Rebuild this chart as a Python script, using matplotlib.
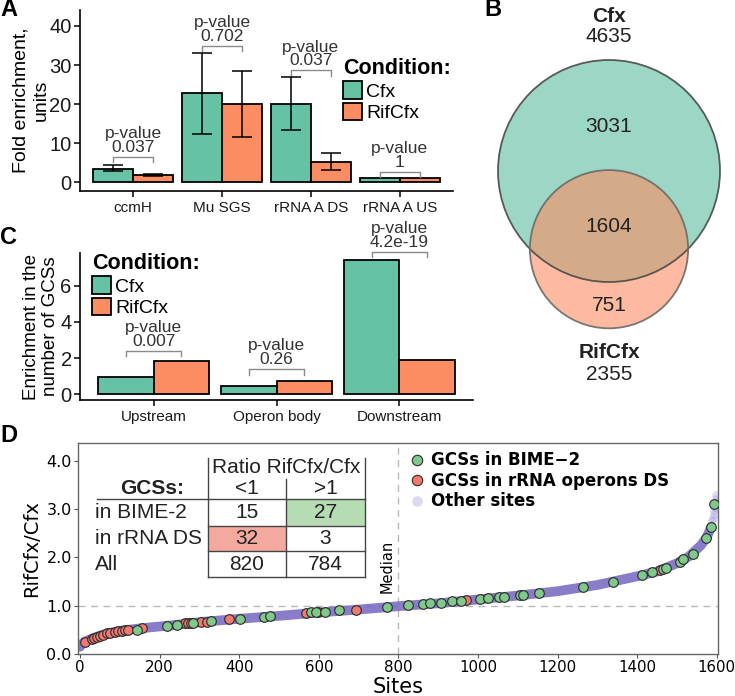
import numpy as np
import matplotlib
matplotlib.use('Agg')
import matplotlib.pyplot as plt
import matplotlib.transforms as mtransforms
from matplotlib.patches import Patch, Circle, Rectangle
from matplotlib.lines import Line2D

W, H = 735, 696
plt.rcParams['font.family'] = ['Liberation Sans', 'DejaVu Sans']

green = '#66c2a5'
orange = '#fc8d62'

# ---- panel A: fold enrichment at selected sites
a_sites = ['ccmH', 'Mu SGS', 'rRNA A DS', 'rRNA A US']
a_cfx = [3.45, 22.8, 20.0, 0.95]
a_cfx_lo = [2.75, 12.4, 13.3, 0.95]
a_cfx_hi = [4.3, 33.1, 26.8, 0.95]
a_rif = [1.85, 20.0, 5.25, 0.95]
a_rif_lo = [1.6, 11.5, 3.0, 0.95]
a_rif_hi = [2.05, 28.5, 7.5, 0.95]
a_pvals = ['0.037', '0.702', '0.037', '1']
a_bracket_y = [6.4, 34.8, 28.6, 2.6]

# ---- panel B: venn counts
venn_cfx_total = 4635
venn_rif_total = 2355
venn_cfx_only = 3031
venn_both = 1604
venn_rif_only = 751

# ---- panel C: enrichment by operon region
c_regions = ['Upstream', 'Operon body', 'Downstream']
c_cfx = [0.96, 0.46, 7.44]
c_rif = [1.85, 0.74, 1.89]
c_pvals = ['0.007', '0.26', '4.2e-19']
c_bracket_y = [2.4, 1.37, 7.9]

# ---- panel D: sorted RifCfx/Cfx ratio
other_x = [0, 10, 30, 50, 70, 100, 150, 200, 250, 300, 400, 500, 600, 700, 800,
           900, 1000, 1100, 1200, 1300, 1400, 1450, 1500, 1530, 1560, 1575, 1585]
other_y = [0.15, 0.25, 0.32, 0.38, 0.43, 0.48, 0.53, 0.57, 0.61, 0.66, 0.73, 0.79,
           0.86, 0.92, 0.99, 1.05, 1.13, 1.21, 1.30, 1.43, 1.61, 1.71, 1.88, 2.02,
           2.25, 2.42, 2.62]
# sparse tail of the other sites (pale dots)
tail_x = [1586, 1588, 1590, 1592, 1594, 1596, 1597, 1598, 1599]
tail_y = [2.68, 2.75, 2.82, 2.9, 2.98, 3.05, 3.12, 3.2, 3.3]
bime_x = [144, 218, 243, 284, 330, 401, 462, 478, 581, 594, 616, 650, 772,
          824, 862, 880, 906, 935, 958, 1004, 1025, 1052, 1065, 1106, 1112, 1154,
          1263, 1338, 1411, 1437, 1464, 1472, 1507, 1516, 1539, 1574, 1585, 1594]
bime_y = [0.50, 0.58, 0.60, 0.65, 0.68, 0.73, 0.77, 0.79, 0.86, 0.86, 0.88, 0.91, 0.98,
          1.01, 1.03, 1.05, 1.06, 1.09, 1.10, 1.14, 1.15, 1.18, 1.19, 1.22, 1.22, 1.26,
          1.39, 1.50, 1.64, 1.69, 1.77, 1.79, 1.91, 1.96, 2.07, 2.41, 2.62, 3.10]
rrna_x = [12, 29, 35, 42, 50, 58, 67, 75, 88, 96, 105, 113, 121, 155, 263, 272,
          280, 305, 318, 375, 569, 597, 693, 969, 1457]
rrna_y = [0.25, 0.32, 0.33, 0.36, 0.38, 0.39, 0.43, 0.44, 0.46, 0.48, 0.48, 0.49, 0.50,
          0.53, 0.64, 0.64, 0.65, 0.67, 0.67, 0.72, 0.84, 0.86, 0.92, 1.12, 1.74]
median_site = 800

table_rows = ['in BIME-2', 'in rRNA DS', 'All']
table_lt1 = [15, 32, 820]
table_gt1 = [27, 3, 784]

fig = plt.figure(figsize=(W / 100, H / 100), dpi=100)
px = mtransforms.Affine2D().scale(1 / W, -1 / H).translate(0, 1) + fig.transFigure


def px_axes(l, t, r, b):
    return fig.add_axes([l / W, 1 - b / H, (r - l) / W, (b - t) / H])


def gg_style(ax):
    for s in ['top', 'right']:
        ax.spines[s].set_visible(False)
    for s in ['left', 'bottom']:
        ax.spines[s].set_linewidth(1.2)
    ax.tick_params(length=4, width=1.1, colors='black', labelcolor='#1a1a1a')


def dodge_bars(ax, cfx, rif):
    x = np.arange(1, len(cfx) + 1)
    w = 0.45
    ax.bar(x - w / 2, cfx, w, color=green, edgecolor='black', linewidth=1.3, zorder=2)
    ax.bar(x + w / 2, rif, w, color=orange, edgecolor='black', linewidth=1.3, zorder=2)
    return x, w


def pvalue_brackets(ax, x, w, ys, pvals, drop, fs):
    for xi, y, p in zip(x, ys, pvals):
        ax.plot([xi - w / 2, xi - w / 2, xi + w / 2, xi + w / 2],
                [y - drop, y, y, y - drop], color='#8a8a8a', lw=1, clip_on=False)
        ax.annotate('p-value\n' + p, xy=(xi, y), xytext=(0, 1.5), textcoords='offset points',
                    ha='center', va='bottom', fontsize=fs, color='#333333',
                    linespacing=0.9, annotation_clip=False)


def condition_legend(ax, anchor):
    handles = [Patch(facecolor=green, edgecolor='black', linewidth=1.3, label='Cfx'),
               Patch(facecolor=orange, edgecolor='black', linewidth=1.3, label='RifCfx')]
    ax.legend(handles=handles, title='Condition:', loc='upper left', bbox_to_anchor=anchor,
              frameon=False, fontsize=14, title_fontproperties={'weight': 'bold', 'size': 15.5},
              alignment='left', handlelength=1.0, handleheight=1.0, handletextpad=0.2,
              labelspacing=0.12, borderpad=0, borderaxespad=0)


# ---------------- A
ax_a = px_axes(80, 10, 453, 191)
x, w = dodge_bars(ax_a, a_cfx, a_rif)
for xs, v, lo, hi in [(x - w / 2, a_cfx, a_cfx_lo, a_cfx_hi), (x + w / 2, a_rif, a_rif_lo, a_rif_hi)]:
    v, lo, hi = np.array(v), np.array(lo), np.array(hi)
    m = hi > lo
    ax_a.errorbar(xs[m], v[m], yerr=[v[m] - lo[m], hi[m] - v[m]], fmt='none', ecolor='black',
                  elinewidth=1.1, capsize=7, capthick=1.1, zorder=3)
pvalue_brackets(ax_a, x, w, a_bracket_y, a_pvals, 1.3, 12.5)
ax_a.set_xlim(0.4, len(a_sites) + 0.6)
ax_a.set_ylim(-2.3, 44.1)
ax_a.set_yticks([0, 10, 20, 30, 40])
ax_a.set_xticks(x)
ax_a.set_xticklabels(a_sites, fontsize=11)
gg_style(ax_a)
ax_a.tick_params(axis='y', labelsize=14.5, pad=2)
ax_a.set_ylabel('Fold enrichment,\nunits', fontsize=14, linespacing=1.2, labelpad=0)
condition_legend(ax_a, (0.705, 0.735))

# ---------------- B
ax_b = px_axes(460, 0, 735, 420)
ax_b.set_xlim(460, 735)
ax_b.set_ylim(420, 0)
ax_b.axis('off')


def lens_area(r1, r2, d):
    if d >= r1 + r2:
        return 0.0
    if d <= abs(r1 - r2):
        return np.pi * min(r1, r2) ** 2
    a1 = r1 ** 2 * np.arccos((d ** 2 + r1 ** 2 - r2 ** 2) / (2 * d * r1))
    a2 = r2 ** 2 * np.arccos((d ** 2 + r2 ** 2 - r1 ** 2) / (2 * d * r2))
    a3 = 0.5 * np.sqrt((-d + r1 + r2) * (d + r1 - r2) * (d - r1 + r2) * (d + r1 + r2))
    return a1 + a2 - a3


r1 = 111.0
k = r1 / np.sqrt(venn_cfx_total)
r2 = k * np.sqrt(venn_rif_total)
target = np.pi * k ** 2 * venn_both
lo_d, hi_d = abs(r1 - r2), r1 + r2
for _ in range(60):
    mid = (lo_d + hi_d) / 2
    if lens_area(r1, r2, mid) > target:
        lo_d = mid
    else:
        hi_d = mid
d = (lo_d + hi_d) / 2
cx, cy1 = 609, 171
cy2 = cy1 + d
ax_b.add_patch(Circle((cx, cy1), r1, facecolor=green, alpha=0.65, edgecolor='none'))
ax_b.add_patch(Circle((cx, cy2), r2, facecolor=orange, alpha=0.6, edgecolor='none'))
ax_b.add_patch(Circle((cx, cy1), r1, fill=False, edgecolor='#4a4a4a', lw=1.3, alpha=0.9))
ax_b.add_patch(Circle((cx, cy2), r2, fill=False, edgecolor='#6a6a6a', lw=1.3, alpha=0.9))
vfs = 15
ax_b.text(cx, cy1 - r1 - 43, 'Cfx', ha='center', va='center', fontsize=vfs, fontweight='bold', color='#222222')
ax_b.text(cx, cy1 - r1 - 23, str(venn_cfx_total), ha='center', va='center', fontsize=vfs, color='#222222')
ax_b.text(cx, cy1 - 0.4 * r1, str(venn_cfx_only), ha='center', va='center', fontsize=vfs, color='#222222')
ax_b.text(cx, (cy2 - r2 + cy1 + r1) / 2, str(venn_both), ha='center', va='center', fontsize=vfs, color='#222222')
ax_b.text(cx, (cy1 + r1 + cy2 + r2) / 2, str(venn_rif_only), ha='center', va='center', fontsize=vfs, color='#222222')
ax_b.text(cx, cy2 + r2 + 24, 'RifCfx', ha='center', va='center', fontsize=vfs, fontweight='bold', color='#222222')
ax_b.text(cx, cy2 + r2 + 46, str(venn_rif_total), ha='center', va='center', fontsize=vfs, color='#222222')

# ---------------- C
ax_c = px_axes(80, 253, 473, 400)
x, w = dodge_bars(ax_c, c_cfx, c_rif)
pvalue_brackets(ax_c, x, w, c_bracket_y, c_pvals, 0.3, 12.5)
ax_c.set_xlim(0.4, len(c_regions) + 0.6)
ax_c.set_ylim(-0.33, 7.83)
ax_c.set_yticks([0, 2, 4, 6])
ax_c.set_xticks(x)
ax_c.set_xticklabels(c_regions, fontsize=11)
gg_style(ax_c)
ax_c.tick_params(axis='y', labelsize=14.5, pad=2)
ax_c.set_ylabel('Enrichment in the\nnumber of GCSs', fontsize=13.5, linespacing=1.12, labelpad=1)
condition_legend(ax_c, (0.03, 1.0))

# ---------------- D
ax_d = px_axes(78, 443, 718, 654)
ax_d.plot(other_x, other_y, color='#7565c0', lw=7, alpha=0.85, solid_capstyle='round', zorder=1)
ax_d.scatter(tail_x, tail_y, s=40, color='#6a5acd', alpha=0.2, linewidth=0, zorder=1)
ax_d.scatter(rrna_x, rrna_y, s=48, color='#f07a70', edgecolor='#2b2b2b', linewidth=0.8, zorder=3)
ax_d.scatter(bime_x, bime_y, s=48, color='#80c98a', edgecolor='#2b2b2b', linewidth=0.8, zorder=4)
ax_d.axhline(1.0, color='#b8b8b8', lw=1, ls=(0, (5, 4)), zorder=0)
ax_d.axvline(median_site, color='#b8b8b8', lw=1, ls=(0, (5, 4)), zorder=0)
ax_d.annotate('Median', xy=(median_site, 1.81), xytext=(-3, 0), textcoords='offset points',
              rotation=90, ha='right', va='center', fontsize=10.5, family='DejaVu Sans')
ax_d.set_xlim(-5, 1603)
ax_d.set_ylim(0, 4.37)
ax_d.set_xticks(range(0, 1601, 200))
ax_d.set_yticks([0, 1, 2, 3, 4])
ax_d.set_yticklabels(['0.0', '1.0', '2.0', '3.0', '4.0'])
for lab in ax_d.get_xticklabels() + ax_d.get_yticklabels():
    lab.set_family('DejaVu Sans')
ax_d.tick_params(labelsize=11.5, length=3, pad=1.5, color='#555555')
ax_d.tick_params(axis='x', labelsize=10.8)
for s in ax_d.spines.values():
    s.set_color('#666666')
    s.set_linewidth(1)
ax_d.set_xlabel('Sites', fontsize=15, family='DejaVu Sans', labelpad=1)
ax_d.set_ylabel('RifCfx/Cfx', fontsize=14, family='DejaVu Sans', labelpad=4)

d_handles = [
    Line2D([], [], ls='', marker='o', markersize=7.5, markerfacecolor='#80c98a',
           markeredgecolor='#2b2b2b', markeredgewidth=0.8, label='GCSs in BIME\u22122'),
    Line2D([], [], ls='', marker='o', markersize=7.5, markerfacecolor='#f07a70',
           markeredgecolor='#2b2b2b', markeredgewidth=0.8, label='GCSs in rRNA operons DS'),
    Line2D([], [], ls='', marker='o', markersize=7.5, markerfacecolor='#dcd8f0',
           markeredgecolor='none', label='Other sites'),
]
ax_d.legend(handles=d_handles, loc='upper left', bbox_to_anchor=(0.52, 0.96), frameon=False,
            prop={'family': 'DejaVu Sans', 'weight': 'bold', 'size': 12},
            handlelength=0.8, handletextpad=0.4, labelspacing=0.15, borderpad=0, borderaxespad=0)

# table inset (pixel layout)
col_l, col_m, col_r = 208, 286, 365
lab_x, line_x = 95, 97
head1_y, head2_y = 458, 479
row_edges = [499, 526, 551, 577]
tfs = 15
tc = '#444444'
fills = {(0, 1): '#b5dcb2', (1, 0): '#f4a99f'}
for (ri, ci), fc in fills.items():
    x0 = col_l if ci == 0 else col_m
    x1 = col_m if ci == 0 else col_r
    ax_d.add_patch(Rectangle((x0, row_edges[ri + 1]), x1 - x0, row_edges[ri] - row_edges[ri + 1],
                             transform=px, facecolor=fc, edgecolor='none', zorder=5, clip_on=False))
segs = [((col_l, col_l), (head1_y, row_edges[-1])), ((col_r, col_r), (head1_y, row_edges[-1])),
        ((col_m, col_m), (head2_y, row_edges[-1])), ((line_x, col_r), (row_edges[0], row_edges[0]))]
for ye in row_edges[1:]:
    segs.append(((col_l, col_r), (ye, ye)))
for xs, ys in segs:
    ax_d.add_line(Line2D(xs, ys, transform=px, color=tc, lw=1, zorder=6, clip_on=False))
ax_d.text((col_l + col_r) / 2, (head1_y + head2_y) / 2 - 1, 'Ratio RifCfx/Cfx', transform=px,
          ha='center', va='center', fontsize=tfs, color='#222222', zorder=7)
ax_d.text((col_l + col_m) / 2, (head2_y + row_edges[0]) / 2, '<1', transform=px,
          ha='center', va='center', fontsize=tfs, color='#222222', zorder=7)
ax_d.text((col_m + col_r) / 2, (head2_y + row_edges[0]) / 2, '>1', transform=px,
          ha='center', va='center', fontsize=tfs, color='#222222', zorder=7)
ax_d.text((line_x + col_l) / 2, (head2_y + row_edges[0]) / 2, 'GCSs:', transform=px,
          ha='center', va='center', fontsize=tfs, fontweight='bold', color='#222222', zorder=7)
for i, (name, a, b) in enumerate(zip(table_rows, table_lt1, table_gt1)):
    yc = (row_edges[i] + row_edges[i + 1]) / 2
    ax_d.text(lab_x, yc, name, transform=px, ha='left', va='center', fontsize=tfs, color='#222222', zorder=7)
    ax_d.text((col_l + col_m) / 2, yc, str(a), transform=px, ha='center', va='center', fontsize=tfs, color='#222222', zorder=7)
    ax_d.text((col_m + col_r) / 2, yc, str(b), transform=px, ha='center', va='center', fontsize=tfs, color='#222222', zorder=7)

# panel letters
for letter, (lx, ly) in {'A': (9, 10), 'B': (493, 10), 'C': (9, 238), 'D': (9, 436)}.items():
    fig.text(lx, ly, letter, transform=px, ha='center', va='center', fontsize=17, fontweight='bold')

fig.savefig('out.png', dpi=100)
